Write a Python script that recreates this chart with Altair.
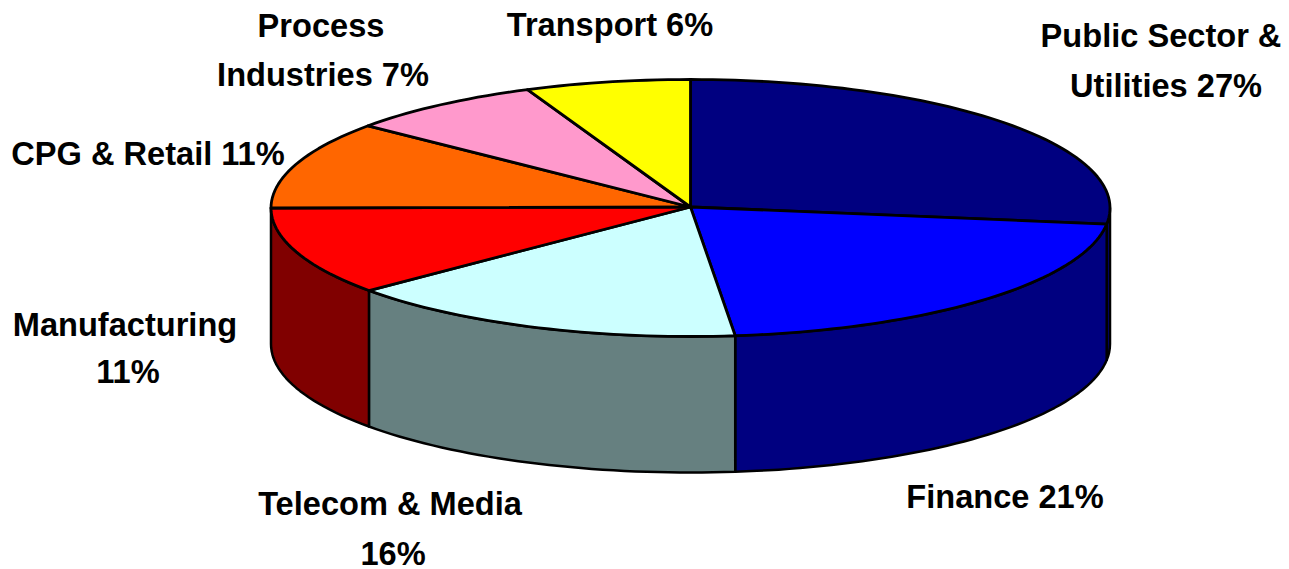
import math
import altair as alt
import pandas as pd

# Data
sectors = ["Public Sector & Utilities", "Finance", "Telecom & Media", "Manufacturing",
           "CPG & Retail", "Process Industries", "Transport"]
labelled_pct = [27, 21, 16, 11, 11, 7, 6]
drawn_pct = [27.0, 21.3, 15.6, 11.1, 11.05, 7.6, 6.35]
top_colors = ["#000080", "#0000FF", "#CCFFFF", "#FF0000", "#FF6600", "#FF99CC", "#FFFF00"]
wall_colors = ["#000080", "#000080", "#668080", "#800000", None, None, None]

label_lines = ["Public Sector &", "Utilities 27%", "Finance 21%", "Telecom & Media", "16%",
               "Manufacturing", "11%", "CPG & Retail 11%", "Process", "Industries 7%", "Transport 6%"]
label_x = [1161, 1166, 1005, 390, 393, 125, 128, 148, 321, 323, 610]
label_y = [47, 97, 508, 515, 565, 336, 383, 165, 37, 86, 36]

# Pie geometry, in page pixels
CX, CY, RX, RY, DEPTH = 690.5, 208, 419.5, 128.5, 136


def pt(deg, drop=0):
    a = math.radians(deg)
    return CX + RX * math.sin(a), CY - RY * math.cos(a) + drop


total = sum(drawn_pct)
edges = [0]
for p in drawn_pct:
    edges.append(edges[-1] + p / total * 360)

tops, walls = [], []
for k, name in enumerate(sectors):
    a0, a1 = edges[k], edges[k + 1]
    n = max(2, int((a1 - a0) / 1.5))
    arc = [a0 + (a1 - a0) * j / n for j in range(n + 1)]
    poly = [(CX, CY - 1)] + [pt(a) for a in arc]
    for i, (x, y) in enumerate(poly):
        tops.append(dict(name=name, i=i, x=x, y=y, color=top_colors[k]))
    if wall_colors[k]:
        lo, hi = max(a0, 90), min(a1, 270)
        m = max(2, int((hi - lo) / 1.5))
        warc = [lo + (hi - lo) * j / m for j in range(m + 1)]
        poly = [pt(a) for a in warc] + [pt(a, DEPTH) for a in reversed(warc)]
        for i, (x, y) in enumerate(poly):
            walls.append(dict(name=name, i=i, x=x, y=y, color=wall_colors[k]))

W, H = 1273, 561
xs = alt.Scale(domain=[8, 8 + W], range=[0, W])
ys = alt.Scale(domain=[8, 8 + H], range=[0, H])


def polys(rows, sw):
    return alt.Chart(pd.DataFrame(rows)).mark_line(
        interpolate="linear-closed", stroke="black", strokeWidth=sw, strokeJoin="round", clip=False
    ).encode(
        x=alt.X("x:Q", scale=xs, axis=None),
        y=alt.Y("y:Q", scale=ys, axis=None),
        order="i:Q",
        detail="name:N",
        fill=alt.Fill("color:N", scale=None, legend=None),
    )


labels = alt.Chart(pd.DataFrame({"t": label_lines, "x": label_x, "y": label_y})).mark_text(
    font="Liberation Sans", fontWeight="bold", fontSize=32.6, color="black", align="center", baseline="alphabetic"
).encode(x=alt.X("x:Q", scale=xs, axis=None), y=alt.Y("y:Q", scale=ys, axis=None), text="t:N")

chart = alt.layer(polys(walls, 2.5), polys(tops, 2.8), labels).properties(
    width=W, height=H, padding=0, autosize=alt.AutoSizeParams(type="none"), background="white"
).configure_view(stroke=None)

chart.save("out.html", embed_options={"renderer": "svg", "actions": False})
